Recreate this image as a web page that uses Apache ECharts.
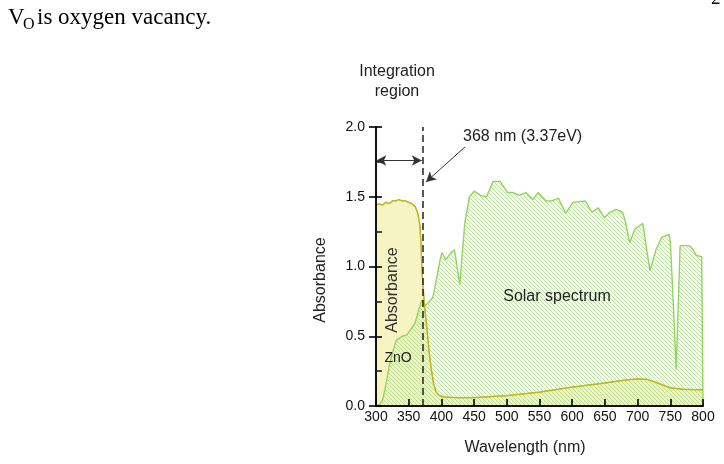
<!DOCTYPE html>
<html><head><meta charset="utf-8">
<script src="https://cdn.jsdelivr.net/npm/echarts@6/dist/echarts.min.js"></script>
<style>html,body{margin:0;padding:0;background:#fff}#c{width:724px;height:464px}</style>
</head><body><div id="c"></div>
<script>
// ZnO absorbance
const znoWl  = [300,305,310,315,320,325,330,335,340,345,350,355,360,364,367,369,370,372,375,378,381,384,388,392,397,403,420,450,500,550,600,650,680,700,715,730,750,770,800];
const znoAbs = [1.44,1.45,1.44,1.46,1.45,1.47,1.47,1.48,1.47,1.47,1.46,1.45,1.43,1.38,1.30,1.15,1.00,0.85,0.68,0.55,0.40,0.28,0.16,0.10,0.075,0.065,0.06,0.06,0.075,0.10,0.135,0.165,0.185,0.195,0.19,0.165,0.13,0.12,0.115];
// Solar spectrum (scaled)
const solarWl  = [300,305,310,315,320,325,331,340,347,355,360,365,370,375,380,387,393,398,401,406,410,415,420,424,428,432,436,443,450,460,469,479,490,501,510,519,529,540,548,560,569,579,590,601,620,630,640,649,658,667,677,681,688,696,708,713,719,728,737,748,750,754,759,762,765,779,785,790,798,800];
const solarVal = [0,0.01,0.04,0.15,0.28,0.38,0.47,0.50,0.51,0.56,0.60,0.68,0.76,0.72,0.74,0.78,0.92,1.05,1.10,1.05,1.07,1.10,1.12,1.00,0.87,1.10,1.32,1.50,1.54,1.51,1.50,1.61,1.61,1.53,1.53,1.51,1.53,1.48,1.53,1.47,1.47,1.49,1.38,1.46,1.47,1.39,1.42,1.35,1.39,1.41,1.39,1.33,1.17,1.27,1.31,1.15,0.97,1.12,1.21,1.23,1.18,0.80,0.26,0.70,1.15,1.15,1.12,1.08,1.07,0];
const xTicks = [300,350,400,450,500,550,600,650,700,750,800];
const yTicks = [0,0.5,1.0,1.5,2.0];
const edgeWl = 371;       // absorption edge (dashed line)
const edgeLabel = '368 nm (3.37eV)';

const zip = (a,b)=>a.map((v,i)=>[v,b[i]]);

function hatch(){
  const c=document.createElement('canvas'); c.width=4; c.height=4;
  const g=c.getContext('2d');
  g.fillStyle='rgba(225,244,212,0.25)'; g.fillRect(0,0,4,4);
  g.strokeStyle='rgba(150,210,105,0.62)'; g.lineWidth=1;
  g.beginPath();
  g.moveTo(-1,-1); g.lineTo(5,5);
  g.moveTo(-1,3); g.lineTo(1,5);
  g.moveTo(3,-1); g.lineTo(5,1);
  g.stroke();
  return c;
}

const font = 'Liberation Sans, Arial, Helvetica, sans-serif';
const serif = '"Liberation Serif", "Times New Roman", serif';
const chart = echarts.init(document.getElementById('c'));
chart.setOption({
  animation:false,
  grid:{left:376, right:21, top:127, bottom:58},
  xAxis:{type:'value', min:xTicks[0], max:xTicks[xTicks.length-1], interval:50, z:10,
    axisLine:{show:true, lineStyle:{color:'#111', width:2}},
    axisTick:{show:true, inside:true, length:7, lineStyle:{color:'#000', width:1.6}},
    axisLabel:{fontFamily:font, fontSize:14, color:'#111', margin:4},
    splitLine:{show:false}},
  yAxis:[{type:'value', min:yTicks[0], max:yTicks[yTicks.length-1], interval:0.5, z:10,
    axisLine:{show:true, lineStyle:{color:'#111', width:2}},
    axisTick:{show:true, inside:true, length:6, lineStyle:{color:'#000', width:1.6}},
    minorTick:{show:true, splitNumber:2, length:6, lineStyle:{color:'#222', width:1.6}},
    axisLabel:{fontFamily:font, fontSize:14, color:'#111', margin:11, formatter:v=>v.toFixed(1)},
    splitLine:{show:false}},
   {type:'value', min:yTicks[0], max:yTicks[yTicks.length-1], interval:0.5, position:'left', z:10,
    axisLine:{show:true, lineStyle:{color:'rgba(0,0,0,0)', width:1}},
    axisLabel:{show:false}, splitLine:{show:false},
    axisTick:{show:true, inside:false, length:7, lineStyle:{color:'#000', width:1.6}}}],
  series:[
    {name:'ZnO', type:'line', data:zip(znoWl,znoAbs), symbol:'none',
     lineStyle:{color:'#c9bd2a', width:1.2}, areaStyle:{color:'#f7f4c4', opacity:1}},
    {name:'Solar', type:'line', data:zip(solarWl,solarVal), symbol:'none',
     lineStyle:{color:'#95d35f', width:1.4},
     areaStyle:{color:{image:hatch(), repeat:'repeat'}, opacity:1},
     markLine:{silent:true, symbol:'none', label:{show:false},
       lineStyle:{color:'#222', type:[7,4], width:1.5},
       data:[{xAxis:edgeWl}]}},
    {name:'ZnO line', type:'line', data:zip(znoWl,znoAbs), symbol:'none',
     lineStyle:{color:'#c2b324', width:1.3},
     markLine:{silent:true, label:{show:false}, symbolSize:[8,10],
       lineStyle:{color:'#333', type:'solid', width:1},
       data:[
         [{coord:[300.5,1.76], symbol:'arrow'},{coord:[edgeWl-1,1.76], symbol:'arrow'}],
         [{coord:[436,1.857], symbol:'none'},{coord:[376.5,1.606], symbol:'arrow'}]
       ]}}
  ],
  graphic:[
    {type:'text', x:8, y:18, z:100, style:{text:'V', font:'23px '+serif, fill:'#000', verticalAlign:'middle'}},
    {type:'text', x:23, y:25, z:100, style:{text:'O', font:'16px '+serif, fill:'#000', verticalAlign:'middle'}},
    {type:'text', x:37, y:18, z:100, style:{text:'is oxygen vacancy.', font:'23px '+serif, fill:'#000', verticalAlign:'middle'}},
    {type:'text', x:711, y:-10, z:100, style:{text:'2', font:'19px '+serif, fill:'#000'}},
    {type:'text', x:397, y:72, z:100, style:{text:'Integration', font:'16px '+font, fill:'#222', align:'center', verticalAlign:'middle'}},
    {type:'text', x:397, y:92, z:100, style:{text:'region', font:'16px '+font, fill:'#222', align:'center', verticalAlign:'middle'}},
    {type:'text', x:463, y:137, z:100, style:{text:edgeLabel, font:'16px '+font, fill:'#222', align:'left', verticalAlign:'middle'}},
    {type:'text', x:321, y:280, z:100, rotation:Math.PI/2, style:{text:'Absorbance', font:'16px '+font, fill:'#222', align:'center', verticalAlign:'middle'}},
    {type:'text', x:525, y:448, z:100, style:{text:'Wavelength (nm)', font:'16px '+font, fill:'#222', align:'center', verticalAlign:'middle'}},
    {type:'text', x:393, y:290, z:100, rotation:Math.PI/2, style:{text:'Absorbance', font:'16px '+font, fill:'#333', align:'center', verticalAlign:'middle'}},
    {type:'text', x:398, y:358, z:100, style:{text:'ZnO', font:'14px '+font, fill:'#222', align:'center', verticalAlign:'middle'}},
    {type:'text', x:557, y:297, z:100, style:{text:'Solar spectrum', font:'16px '+font, fill:'#222', align:'center', verticalAlign:'middle'}}
  ]
});
</script></body></html>
